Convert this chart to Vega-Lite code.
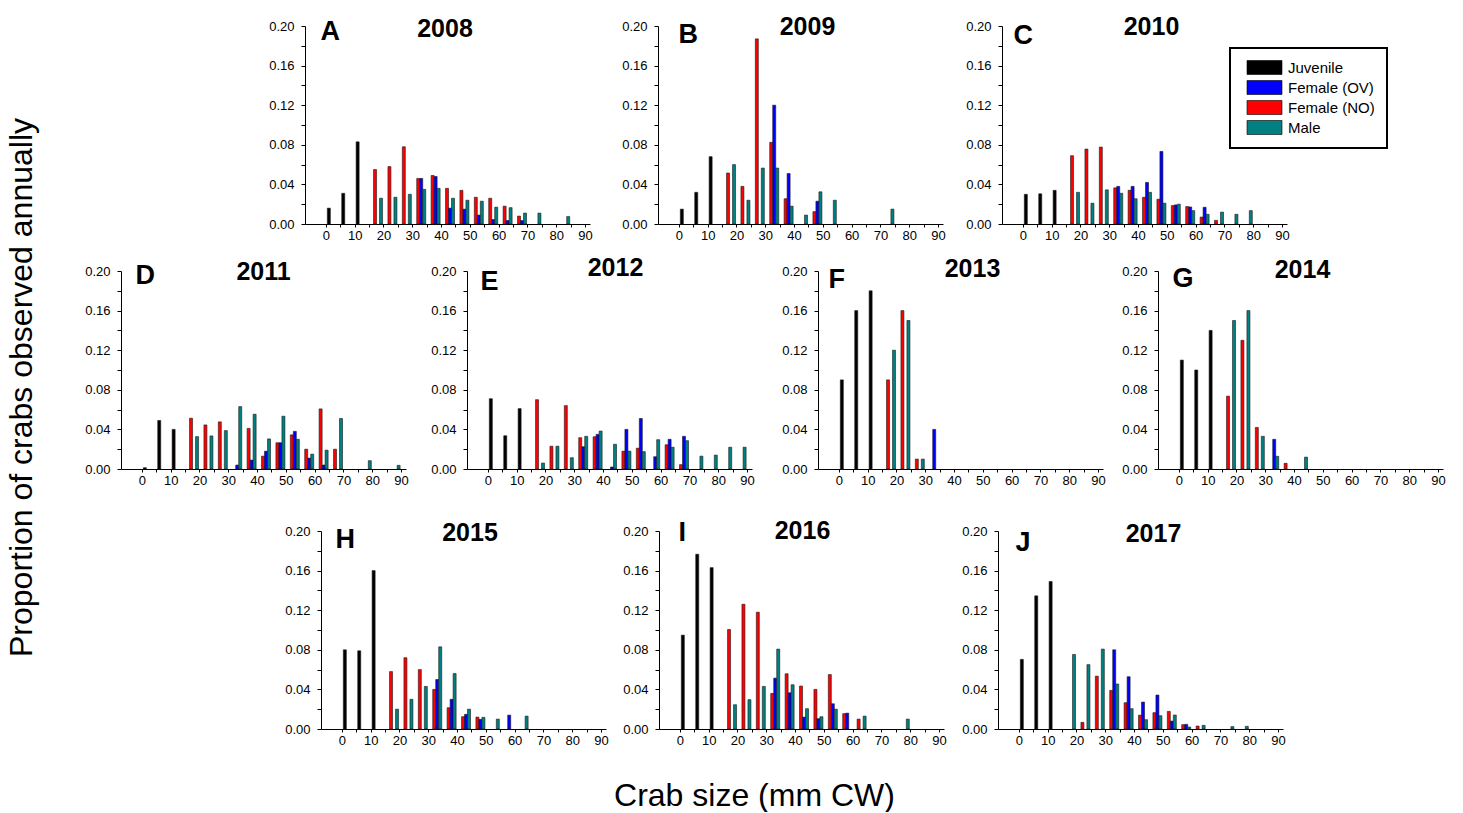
{
"$schema":"https://vega.github.io/schema/vega-lite/v6.json",
"padding":{"left":5,"top":14,"right":0,"bottom":0},
"data":{"name":"crabs"},
"datasets":{"crabs":[
{"year":2008,"stage":"Juvenile","size":0,"prop":0.016},{"year":2008,"stage":"Juvenile","size":5,"prop":0.031},{"year":2008,"stage":"Juvenile","size":10,"prop":0.083},
{"year":2008,"stage":"Female (NO)","size":15,"prop":0.055},{"year":2008,"stage":"Female (NO)","size":20,"prop":0.058},{"year":2008,"stage":"Female (NO)","size":25,"prop":0.078},{"year":2008,"stage":"Female (NO)","size":30,"prop":0.046},{"year":2008,"stage":"Female (NO)","size":35,"prop":0.049},{"year":2008,"stage":"Female (NO)","size":40,"prop":0.036},{"year":2008,"stage":"Female (NO)","size":45,"prop":0.034},{"year":2008,"stage":"Female (NO)","size":50,"prop":0.027},{"year":2008,"stage":"Female (NO)","size":55,"prop":0.026},{"year":2008,"stage":"Female (NO)","size":60,"prop":0.018},{"year":2008,"stage":"Female (NO)","size":65,"prop":0.008},
{"year":2008,"stage":"Female (OV)","size":30,"prop":0.046},{"year":2008,"stage":"Female (OV)","size":35,"prop":0.048},{"year":2008,"stage":"Female (OV)","size":40,"prop":0.016},{"year":2008,"stage":"Female (OV)","size":45,"prop":0.015},{"year":2008,"stage":"Female (OV)","size":50,"prop":0.009},{"year":2008,"stage":"Female (OV)","size":55,"prop":0.0045},{"year":2008,"stage":"Female (OV)","size":60,"prop":0.0035},{"year":2008,"stage":"Female (OV)","size":65,"prop":0.0035},
{"year":2008,"stage":"Male","size":15,"prop":0.026},{"year":2008,"stage":"Male","size":20,"prop":0.027},{"year":2008,"stage":"Male","size":25,"prop":0.030},{"year":2008,"stage":"Male","size":30,"prop":0.035},{"year":2008,"stage":"Male","size":35,"prop":0.036},{"year":2008,"stage":"Male","size":40,"prop":0.026},{"year":2008,"stage":"Male","size":45,"prop":0.024},{"year":2008,"stage":"Male","size":50,"prop":0.023},{"year":2008,"stage":"Male","size":55,"prop":0.017},{"year":2008,"stage":"Male","size":60,"prop":0.0165},{"year":2008,"stage":"Male","size":65,"prop":0.011},{"year":2008,"stage":"Male","size":70,"prop":0.011},{"year":2008,"stage":"Male","size":80,"prop":0.0075},

{"year":2009,"stage":"Juvenile","size":0,"prop":0.015},{"year":2009,"stage":"Juvenile","size":5,"prop":0.032},{"year":2009,"stage":"Juvenile","size":10,"prop":0.068},
{"year":2009,"stage":"Female (NO)","size":15,"prop":0.0515},{"year":2009,"stage":"Female (NO)","size":20,"prop":0.038},{"year":2009,"stage":"Female (NO)","size":25,"prop":0.187},{"year":2009,"stage":"Female (NO)","size":30,"prop":0.0825},{"year":2009,"stage":"Female (NO)","size":35,"prop":0.0255},{"year":2009,"stage":"Female (NO)","size":45,"prop":0.0125},
{"year":2009,"stage":"Female (OV)","size":30,"prop":0.12},{"year":2009,"stage":"Female (OV)","size":35,"prop":0.051},{"year":2009,"stage":"Female (OV)","size":45,"prop":0.023},
{"year":2009,"stage":"Male","size":15,"prop":0.060},{"year":2009,"stage":"Male","size":20,"prop":0.024},{"year":2009,"stage":"Male","size":25,"prop":0.0565},{"year":2009,"stage":"Male","size":30,"prop":0.0565},{"year":2009,"stage":"Male","size":35,"prop":0.018},{"year":2009,"stage":"Male","size":40,"prop":0.009},{"year":2009,"stage":"Male","size":45,"prop":0.0325},{"year":2009,"stage":"Male","size":50,"prop":0.024},{"year":2009,"stage":"Male","size":70,"prop":0.015},

{"year":2010,"stage":"Juvenile","size":0,"prop":0.030},{"year":2010,"stage":"Juvenile","size":5,"prop":0.0305},{"year":2010,"stage":"Juvenile","size":10,"prop":0.034},
{"year":2010,"stage":"Female (NO)","size":15,"prop":0.069},{"year":2010,"stage":"Female (NO)","size":20,"prop":0.0757},{"year":2010,"stage":"Female (NO)","size":25,"prop":0.0777},{"year":2010,"stage":"Female (NO)","size":30,"prop":0.0365},{"year":2010,"stage":"Female (NO)","size":35,"prop":0.034},{"year":2010,"stage":"Female (NO)","size":40,"prop":0.027},{"year":2010,"stage":"Female (NO)","size":45,"prop":0.025},{"year":2010,"stage":"Female (NO)","size":50,"prop":0.0186},{"year":2010,"stage":"Female (NO)","size":55,"prop":0.0176},{"year":2010,"stage":"Female (NO)","size":60,"prop":0.007},{"year":2010,"stage":"Female (NO)","size":65,"prop":0.0037},
{"year":2010,"stage":"Female (OV)","size":30,"prop":0.038},{"year":2010,"stage":"Female (OV)","size":35,"prop":0.038},{"year":2010,"stage":"Female (OV)","size":40,"prop":0.042},{"year":2010,"stage":"Female (OV)","size":45,"prop":0.0733},{"year":2010,"stage":"Female (OV)","size":50,"prop":0.0193},{"year":2010,"stage":"Female (OV)","size":55,"prop":0.0172},{"year":2010,"stage":"Female (OV)","size":60,"prop":0.0169},
{"year":2010,"stage":"Male","size":15,"prop":0.032},{"year":2010,"stage":"Male","size":20,"prop":0.021},{"year":2010,"stage":"Male","size":25,"prop":0.0345},{"year":2010,"stage":"Male","size":30,"prop":0.031},{"year":2010,"stage":"Male","size":35,"prop":0.0255},{"year":2010,"stage":"Male","size":40,"prop":0.032},{"year":2010,"stage":"Male","size":45,"prop":0.021},{"year":2010,"stage":"Male","size":50,"prop":0.020},{"year":2010,"stage":"Male","size":55,"prop":0.0135},{"year":2010,"stage":"Male","size":60,"prop":0.0098},{"year":2010,"stage":"Male","size":65,"prop":0.012},{"year":2010,"stage":"Male","size":70,"prop":0.0098},{"year":2010,"stage":"Male","size":75,"prop":0.0135},

{"year":2011,"stage":"Juvenile","size":0,"prop":0.0013},{"year":2011,"stage":"Juvenile","size":5,"prop":0.049},{"year":2011,"stage":"Juvenile","size":10,"prop":0.040},
{"year":2011,"stage":"Female (NO)","size":15,"prop":0.0513},{"year":2011,"stage":"Female (NO)","size":20,"prop":0.0445},{"year":2011,"stage":"Female (NO)","size":25,"prop":0.0476},{"year":2011,"stage":"Female (NO)","size":35,"prop":0.041},{"year":2011,"stage":"Female (NO)","size":40,"prop":0.013},{"year":2011,"stage":"Female (NO)","size":45,"prop":0.0265},{"year":2011,"stage":"Female (NO)","size":50,"prop":0.0345},{"year":2011,"stage":"Female (NO)","size":55,"prop":0.020},{"year":2011,"stage":"Female (NO)","size":60,"prop":0.0607},{"year":2011,"stage":"Female (NO)","size":65,"prop":0.020},
{"year":2011,"stage":"Female (OV)","size":30,"prop":0.004},{"year":2011,"stage":"Female (OV)","size":35,"prop":0.009},{"year":2011,"stage":"Female (OV)","size":40,"prop":0.018},{"year":2011,"stage":"Female (OV)","size":45,"prop":0.0265},{"year":2011,"stage":"Female (OV)","size":50,"prop":0.038},{"year":2011,"stage":"Female (OV)","size":55,"prop":0.011},{"year":2011,"stage":"Female (OV)","size":60,"prop":0.004},
{"year":2011,"stage":"Male","size":15,"prop":0.0327},{"year":2011,"stage":"Male","size":20,"prop":0.0334},{"year":2011,"stage":"Male","size":25,"prop":0.0388},{"year":2011,"stage":"Male","size":30,"prop":0.063},{"year":2011,"stage":"Male","size":35,"prop":0.0553},{"year":2011,"stage":"Male","size":40,"prop":0.0304},{"year":2011,"stage":"Male","size":45,"prop":0.0533},{"year":2011,"stage":"Male","size":50,"prop":0.030},{"year":2011,"stage":"Male","size":55,"prop":0.015},{"year":2011,"stage":"Male","size":60,"prop":0.019},{"year":2011,"stage":"Male","size":65,"prop":0.051},{"year":2011,"stage":"Male","size":75,"prop":0.0084},{"year":2011,"stage":"Male","size":85,"prop":0.0037},

{"year":2012,"stage":"Juvenile","size":0,"prop":0.071},{"year":2012,"stage":"Juvenile","size":5,"prop":0.0336},{"year":2012,"stage":"Juvenile","size":10,"prop":0.061},
{"year":2012,"stage":"Female (NO)","size":15,"prop":0.070},{"year":2012,"stage":"Female (NO)","size":20,"prop":0.023},{"year":2012,"stage":"Female (NO)","size":25,"prop":0.064},{"year":2012,"stage":"Female (NO)","size":30,"prop":0.0316},{"year":2012,"stage":"Female (NO)","size":35,"prop":0.0326},{"year":2012,"stage":"Female (NO)","size":45,"prop":0.018},{"year":2012,"stage":"Female (NO)","size":50,"prop":0.021},{"year":2012,"stage":"Female (NO)","size":60,"prop":0.0245},{"year":2012,"stage":"Female (NO)","size":65,"prop":0.0044},
{"year":2012,"stage":"Female (OV)","size":30,"prop":0.0225},{"year":2012,"stage":"Female (OV)","size":35,"prop":0.035},{"year":2012,"stage":"Female (OV)","size":40,"prop":0.002},{"year":2012,"stage":"Female (OV)","size":45,"prop":0.040},{"year":2012,"stage":"Female (OV)","size":50,"prop":0.051},{"year":2012,"stage":"Female (OV)","size":55,"prop":0.0124},{"year":2012,"stage":"Female (OV)","size":60,"prop":0.030},{"year":2012,"stage":"Female (OV)","size":65,"prop":0.033},
{"year":2012,"stage":"Male","size":15,"prop":0.006},{"year":2012,"stage":"Male","size":20,"prop":0.023},{"year":2012,"stage":"Male","size":25,"prop":0.0114},{"year":2012,"stage":"Male","size":30,"prop":0.033},{"year":2012,"stage":"Male","size":35,"prop":0.0383},{"year":2012,"stage":"Male","size":40,"prop":0.025},{"year":2012,"stage":"Male","size":45,"prop":0.018},{"year":2012,"stage":"Male","size":50,"prop":0.0175},{"year":2012,"stage":"Male","size":55,"prop":0.0296},{"year":2012,"stage":"Male","size":60,"prop":0.022},{"year":2012,"stage":"Male","size":65,"prop":0.0286},{"year":2012,"stage":"Male","size":70,"prop":0.013},{"year":2012,"stage":"Male","size":75,"prop":0.014},{"year":2012,"stage":"Male","size":80,"prop":0.022},{"year":2012,"stage":"Male","size":85,"prop":0.022},

{"year":2013,"stage":"Juvenile","size":0,"prop":0.09},{"year":2013,"stage":"Juvenile","size":5,"prop":0.16},{"year":2013,"stage":"Juvenile","size":10,"prop":0.18},
{"year":2013,"stage":"Female (NO)","size":15,"prop":0.09},{"year":2013,"stage":"Female (NO)","size":20,"prop":0.16},{"year":2013,"stage":"Female (NO)","size":25,"prop":0.01},
{"year":2013,"stage":"Female (OV)","size":30,"prop":0.04},
{"year":2013,"stage":"Male","size":15,"prop":0.12},{"year":2013,"stage":"Male","size":20,"prop":0.15},{"year":2013,"stage":"Male","size":25,"prop":0.01},

{"year":2014,"stage":"Juvenile","size":0,"prop":0.11},{"year":2014,"stage":"Juvenile","size":5,"prop":0.10},{"year":2014,"stage":"Juvenile","size":10,"prop":0.14},
{"year":2014,"stage":"Female (NO)","size":15,"prop":0.0736},{"year":2014,"stage":"Female (NO)","size":20,"prop":0.13},{"year":2014,"stage":"Female (NO)","size":25,"prop":0.042},{"year":2014,"stage":"Female (NO)","size":35,"prop":0.0057},
{"year":2014,"stage":"Female (OV)","size":30,"prop":0.030},
{"year":2014,"stage":"Male","size":15,"prop":0.15},{"year":2014,"stage":"Male","size":20,"prop":0.16},{"year":2014,"stage":"Male","size":25,"prop":0.033},{"year":2014,"stage":"Male","size":30,"prop":0.0128},{"year":2014,"stage":"Male","size":40,"prop":0.012},

{"year":2015,"stage":"Juvenile","size":0,"prop":0.080},{"year":2015,"stage":"Juvenile","size":5,"prop":0.079},{"year":2015,"stage":"Juvenile","size":10,"prop":0.160},
{"year":2015,"stage":"Female (NO)","size":15,"prop":0.058},{"year":2015,"stage":"Female (NO)","size":20,"prop":0.072},{"year":2015,"stage":"Female (NO)","size":25,"prop":0.060},{"year":2015,"stage":"Female (NO)","size":30,"prop":0.040},{"year":2015,"stage":"Female (NO)","size":35,"prop":0.0215},{"year":2015,"stage":"Female (NO)","size":40,"prop":0.0124},{"year":2015,"stage":"Female (NO)","size":45,"prop":0.012},
{"year":2015,"stage":"Female (OV)","size":30,"prop":0.050},{"year":2015,"stage":"Female (OV)","size":35,"prop":0.030},{"year":2015,"stage":"Female (OV)","size":40,"prop":0.0148},{"year":2015,"stage":"Female (OV)","size":45,"prop":0.0097},{"year":2015,"stage":"Female (OV)","size":55,"prop":0.014},
{"year":2015,"stage":"Male","size":15,"prop":0.020},{"year":2015,"stage":"Male","size":20,"prop":0.030},{"year":2015,"stage":"Male","size":25,"prop":0.043},{"year":2015,"stage":"Male","size":30,"prop":0.083},{"year":2015,"stage":"Male","size":35,"prop":0.056},{"year":2015,"stage":"Male","size":40,"prop":0.020},{"year":2015,"stage":"Male","size":45,"prop":0.0118},{"year":2015,"stage":"Male","size":50,"prop":0.010},{"year":2015,"stage":"Male","size":60,"prop":0.013},

{"year":2016,"stage":"Juvenile","size":0,"prop":0.0948},{"year":2016,"stage":"Juvenile","size":5,"prop":0.1765},{"year":2016,"stage":"Juvenile","size":10,"prop":0.163},
{"year":2016,"stage":"Female (NO)","size":15,"prop":0.1005},{"year":2016,"stage":"Female (NO)","size":20,"prop":0.126},{"year":2016,"stage":"Female (NO)","size":25,"prop":0.118},{"year":2016,"stage":"Female (NO)","size":30,"prop":0.036},{"year":2016,"stage":"Female (NO)","size":35,"prop":0.0558},{"year":2016,"stage":"Female (NO)","size":40,"prop":0.0434},{"year":2016,"stage":"Female (NO)","size":45,"prop":0.040},{"year":2016,"stage":"Female (NO)","size":50,"prop":0.055},{"year":2016,"stage":"Female (NO)","size":55,"prop":0.0155},{"year":2016,"stage":"Female (NO)","size":60,"prop":0.010},
{"year":2016,"stage":"Female (OV)","size":30,"prop":0.0514},{"year":2016,"stage":"Female (OV)","size":35,"prop":0.0366},{"year":2016,"stage":"Female (OV)","size":40,"prop":0.012},{"year":2016,"stage":"Female (OV)","size":45,"prop":0.0104},{"year":2016,"stage":"Female (OV)","size":50,"prop":0.0255},{"year":2016,"stage":"Female (OV)","size":55,"prop":0.016},
{"year":2016,"stage":"Male","size":15,"prop":0.0245},{"year":2016,"stage":"Male","size":20,"prop":0.0296},{"year":2016,"stage":"Male","size":25,"prop":0.043},{"year":2016,"stage":"Male","size":30,"prop":0.0807},{"year":2016,"stage":"Male","size":35,"prop":0.0447},{"year":2016,"stage":"Male","size":40,"prop":0.0205},{"year":2016,"stage":"Male","size":45,"prop":0.0124},{"year":2016,"stage":"Male","size":50,"prop":0.020},{"year":2016,"stage":"Male","size":60,"prop":0.013},{"year":2016,"stage":"Male","size":75,"prop":0.010},

{"year":2017,"stage":"Juvenile","size":0,"prop":0.0703},{"year":2017,"stage":"Juvenile","size":5,"prop":0.1345},{"year":2017,"stage":"Juvenile","size":10,"prop":0.149},
{"year":2017,"stage":"Female (NO)","size":20,"prop":0.0067},{"year":2017,"stage":"Female (NO)","size":25,"prop":0.0534},{"year":2017,"stage":"Female (NO)","size":30,"prop":0.039},{"year":2017,"stage":"Female (NO)","size":35,"prop":0.0266},{"year":2017,"stage":"Female (NO)","size":40,"prop":0.014},{"year":2017,"stage":"Female (NO)","size":45,"prop":0.0165},{"year":2017,"stage":"Female (NO)","size":50,"prop":0.0178},{"year":2017,"stage":"Female (NO)","size":55,"prop":0.0044},{"year":2017,"stage":"Female (NO)","size":60,"prop":0.003},
{"year":2017,"stage":"Female (OV)","size":30,"prop":0.080},{"year":2017,"stage":"Female (OV)","size":35,"prop":0.0528},{"year":2017,"stage":"Female (OV)","size":40,"prop":0.0272},{"year":2017,"stage":"Female (OV)","size":45,"prop":0.0343},{"year":2017,"stage":"Female (OV)","size":50,"prop":0.008},{"year":2017,"stage":"Female (OV)","size":55,"prop":0.0047},
{"year":2017,"stage":"Male","size":15,"prop":0.0753},{"year":2017,"stage":"Male","size":20,"prop":0.065},{"year":2017,"stage":"Male","size":25,"prop":0.0807},{"year":2017,"stage":"Male","size":30,"prop":0.0454},{"year":2017,"stage":"Male","size":35,"prop":0.0205},{"year":2017,"stage":"Male","size":40,"prop":0.0094},{"year":2017,"stage":"Male","size":45,"prop":0.0134},{"year":2017,"stage":"Male","size":50,"prop":0.0141},{"year":2017,"stage":"Male","size":55,"prop":0.002},{"year":2017,"stage":"Male","size":60,"prop":0.0037},{"year":2017,"stage":"Male","size":70,"prop":0.0024},{"year":2017,"stage":"Male","size":75,"prop":0.0027}
]},
"config":{
"view":{"stroke":null},
"font":"Liberation Sans",
"concat":{"spacing":0},
"bar":{"stroke":"#1a1a1a","strokeWidth":0.6},
"legend":{"strokeWidth":2},
"axis":{"grid":false,"domainColor":"#000","tickColor":"#000","labelColor":"#000","labelFontSize":13,"labelFont":"Liberation Sans","titleColor":"#000","titleFont":"Liberation Sans","domainWidth":1,"tickWidth":1},
"axisX":{"tickSize":3,"labelPadding":2,"labelAngle":0,"labelFlush":false,"labelOverlap":false,"titleFontSize":25,"titleFontWeight":"bold","titleBaseline":"top","titleAlign":"center","titleAngle":0},
"axisY":{"tickSize":4,"labelPadding":7,"labelOverlap":false,"titleFontSize":27,"titleFontWeight":"bold","titleAngle":0,"titleAlign":"left","titleBaseline":"top"}
},
"title":{"text":"Crab size (mm CW)","orient":"bottom","anchor":"middle","offset":34,"dx":29,"fontSize":32,"fontWeight":"normal","font":"Liberation Sans","color":"#000"},
"resolve":{"legend":{"color":"independent"}},
"vconcat":[
{"title":{"text":"Proportion of crabs observed annually","orient":"left","anchor":"middle","offset":46,"dx":-7,"fontSize":32,"fontWeight":"normal","font":"Liberation Sans","color":"#000"},
"spacing":31,
"resolve":{"legend":{"color":"independent"}},
"vconcat":[
{"spacing":13,"resolve":{"legend":{"color":"independent"}},
"vconcat":[
{"bounds":"flush","spacing":0,"resolve":{"legend":{"color":"independent"}},
"hconcat":[
{"width":184,"height":10,"data":{"values":[]},"mark":{"type":"point","opacity":0}},
{"width":285,"height":198,"transform":[{"filter":"datum.year==2008"}],
"encoding":{
"x":{"field":"size","type":"quantitative","scale":{"domain":[-5.5,90],"nice":false,"zero":false},"axis":{"title":"2008","titleX":139.5,"titleY":-208,"values":[0,5,10,15,20,25,30,35,40,45,50,55,60,65,70,75,80,85,90],"labelExpr":"datum.value%10==0?datum.label:''"}},
"y":{"field":"prop","type":"quantitative","scale":{"domain":[0,0.2],"nice":false},"axis":{"title":"A","titleX":15,"titleY":-8,"values":[0,0.02,0.04,0.06,0.08,0.1,0.12,0.14,0.16,0.18,0.2],"labelExpr":"round(datum.value*100)%4==0?format(datum.value,'.2f'):''"}},
"color":{"field":"stage","type":"nominal","scale":{"domain":["Juvenile","Female (OV)","Female (NO)","Male"],"range":["#000000","#0000ff","#ff0000","#008080"]},"legend":null}},
"layer":[
{"transform":[{"filter":"datum.stage=='Juvenile'"}],"mark":{"type":"bar","xOffset":3,"width":3}},
{"transform":[{"filter":"datum.stage=='Female (NO)'"}],"mark":{"type":"bar","xOffset":6,"width":3}},
{"transform":[{"filter":"datum.stage=='Female (OV)'"}],"mark":{"type":"bar","xOffset":9,"width":3}},
{"transform":[{"filter":"datum.stage=='Male'"}],"mark":{"type":"bar","xOffset":12,"width":3}}]},
{"width":68,"height":10,"data":{"values":[]},"mark":{"type":"point","opacity":0}},
{"width":285,"height":198,"transform":[{"filter":"datum.year==2009"}],
"encoding":{
"x":{"field":"size","type":"quantitative","scale":{"domain":[-5.5,90],"nice":false,"zero":false},"axis":{"title":"2009","titleX":149,"titleY":-210,"values":[0,5,10,15,20,25,30,35,40,45,50,55,60,65,70,75,80,85,90],"labelExpr":"datum.value%10==0?datum.label:''"}},
"y":{"field":"prop","type":"quantitative","scale":{"domain":[0,0.2],"nice":false},"axis":{"title":"B","titleX":20,"titleY":-5,"values":[0,0.02,0.04,0.06,0.08,0.1,0.12,0.14,0.16,0.18,0.2],"labelExpr":"round(datum.value*100)%4==0?format(datum.value,'.2f'):''"}},
"color":{"field":"stage","type":"nominal","scale":{"domain":["Juvenile","Female (OV)","Female (NO)","Male"],"range":["#000000","#0000ff","#ff0000","#008080"]},"legend":null}},
"layer":[
{"transform":[{"filter":"datum.stage=='Juvenile'"}],"mark":{"type":"bar","xOffset":3,"width":3}},
{"transform":[{"filter":"datum.stage=='Female (NO)'"}],"mark":{"type":"bar","xOffset":6,"width":3}},
{"transform":[{"filter":"datum.stage=='Female (OV)'"}],"mark":{"type":"bar","xOffset":9,"width":3}},
{"transform":[{"filter":"datum.stage=='Male'"}],"mark":{"type":"bar","xOffset":12,"width":3}}]},
{"width":59,"height":10,"data":{"values":[]},"mark":{"type":"point","opacity":0}},
{"width":285,"height":198,"transform":[{"filter":"datum.year==2010"}],
"encoding":{
"x":{"field":"size","type":"quantitative","scale":{"domain":[-5.5,90],"nice":false,"zero":false},"axis":{"title":"2010","titleX":149,"titleY":-210,"values":[0,5,10,15,20,25,30,35,40,45,50,55,60,65,70,75,80,85,90],"labelExpr":"datum.value%10==0?datum.label:''"}},
"y":{"field":"prop","type":"quantitative","scale":{"domain":[0,0.2],"nice":false},"axis":{"title":"C","titleX":11,"titleY":-4,"values":[0,0.02,0.04,0.06,0.08,0.1,0.12,0.14,0.16,0.18,0.2],"labelExpr":"round(datum.value*100)%4==0?format(datum.value,'.2f'):''"}},
"color":{"field":"stage","type":"nominal","scale":{"domain":["Juvenile","Female (OV)","Female (NO)","Male"],"range":["#000000","#0000ff","#ff0000","#008080"]},
"legend":{"orient":"none","legendX":228,"legendY":22,"title":null,"direction":"vertical","fillColor":"white","strokeColor":"black","padding":12,"symbolType":"M-2.5,-1H2.5V1H-2.5Z","symbolSize":196,"symbolStrokeColor":"#000","symbolStrokeWidth":1,"symbolOffset":15,"labelOffset":16,"labelFontSize":15,"labelFont":"Liberation Sans","labelColor":"#000","rowPadding":3}}},
"layer":[
{"transform":[{"filter":"datum.stage=='Juvenile'"}],"mark":{"type":"bar","xOffset":3,"width":3}},
{"transform":[{"filter":"datum.stage=='Female (NO)'"}],"mark":{"type":"bar","xOffset":6,"width":3}},
{"transform":[{"filter":"datum.stage=='Female (OV)'"}],"mark":{"type":"bar","xOffset":9,"width":3}},
{"transform":[{"filter":"datum.stage=='Male'"}],"mark":{"type":"bar","xOffset":12,"width":3}}]}
]},
{"bounds":"flush","spacing":0,"resolve":{"legend":{"color":"independent"}},
"hconcat":[
{"width":285,"height":198,"transform":[{"filter":"datum.year==2011"}],
"encoding":{
"x":{"field":"size","type":"quantitative","scale":{"domain":[-5.5,90],"nice":false,"zero":false},"axis":{"title":"2011","titleX":142,"titleY":-210,"values":[0,5,10,15,20,25,30,35,40,45,50,55,60,65,70,75,80,85,90],"labelExpr":"datum.value%10==0?datum.label:''"}},
"y":{"field":"prop","type":"quantitative","scale":{"domain":[0,0.2],"nice":false},"axis":{"title":"D","titleX":14,"titleY":-9,"values":[0,0.02,0.04,0.06,0.08,0.1,0.12,0.14,0.16,0.18,0.2],"labelExpr":"round(datum.value*100)%4==0?format(datum.value,'.2f'):''"}},
"color":{"field":"stage","type":"nominal","scale":{"domain":["Juvenile","Female (OV)","Female (NO)","Male"],"range":["#000000","#0000ff","#ff0000","#008080"]},"legend":null}},
"layer":[
{"transform":[{"filter":"datum.stage=='Juvenile'"}],"mark":{"type":"bar","xOffset":3,"width":3}},
{"transform":[{"filter":"datum.stage=='Female (NO)'"}],"mark":{"type":"bar","xOffset":6,"width":3}},
{"transform":[{"filter":"datum.stage=='Female (OV)'"}],"mark":{"type":"bar","xOffset":9,"width":3}},
{"transform":[{"filter":"datum.stage=='Male'"}],"mark":{"type":"bar","xOffset":12,"width":3}}]},
{"width":61,"height":10,"data":{"values":[]},"mark":{"type":"point","opacity":0}},
{"width":285,"height":198,"transform":[{"filter":"datum.year==2012"}],
"encoding":{
"x":{"field":"size","type":"quantitative","scale":{"domain":[-5.5,90],"nice":false,"zero":false},"axis":{"title":"2012","titleX":148,"titleY":-214,"values":[0,5,10,15,20,25,30,35,40,45,50,55,60,65,70,75,80,85,90],"labelExpr":"datum.value%10==0?datum.label:''"}},
"y":{"field":"prop","type":"quantitative","scale":{"domain":[0,0.2],"nice":false},"axis":{"title":"E","titleX":13,"titleY":-3,"values":[0,0.02,0.04,0.06,0.08,0.1,0.12,0.14,0.16,0.18,0.2],"labelExpr":"round(datum.value*100)%4==0?format(datum.value,'.2f'):''"}},
"color":{"field":"stage","type":"nominal","scale":{"domain":["Juvenile","Female (OV)","Female (NO)","Male"],"range":["#000000","#0000ff","#ff0000","#008080"]},"legend":null}},
"layer":[
{"transform":[{"filter":"datum.stage=='Juvenile'"}],"mark":{"type":"bar","xOffset":3,"width":3}},
{"transform":[{"filter":"datum.stage=='Female (NO)'"}],"mark":{"type":"bar","xOffset":6,"width":3}},
{"transform":[{"filter":"datum.stage=='Female (OV)'"}],"mark":{"type":"bar","xOffset":9,"width":3}},
{"transform":[{"filter":"datum.stage=='Male'"}],"mark":{"type":"bar","xOffset":12,"width":3}}]},
{"width":66,"height":10,"data":{"values":[]},"mark":{"type":"point","opacity":0}},
{"width":285,"height":198,"transform":[{"filter":"datum.year==2013"}],
"encoding":{
"x":{"field":"size","type":"quantitative","scale":{"domain":[-5.5,90],"nice":false,"zero":false},"axis":{"title":"2013","titleX":154,"titleY":-213,"values":[0,5,10,15,20,25,30,35,40,45,50,55,60,65,70,75,80,85,90],"labelExpr":"datum.value%10==0?datum.label:''"}},
"y":{"field":"prop","type":"quantitative","scale":{"domain":[0,0.2],"nice":false},"axis":{"title":"F","titleX":10,"titleY":-5,"values":[0,0.02,0.04,0.06,0.08,0.1,0.12,0.14,0.16,0.18,0.2],"labelExpr":"round(datum.value*100)%4==0?format(datum.value,'.2f'):''"}},
"color":{"field":"stage","type":"nominal","scale":{"domain":["Juvenile","Female (OV)","Female (NO)","Male"],"range":["#000000","#0000ff","#ff0000","#008080"]},"legend":null}},
"layer":[
{"transform":[{"filter":"datum.stage=='Juvenile'"}],"mark":{"type":"bar","xOffset":3,"width":3}},
{"transform":[{"filter":"datum.stage=='Female (NO)'"}],"mark":{"type":"bar","xOffset":6,"width":3}},
{"transform":[{"filter":"datum.stage=='Female (OV)'"}],"mark":{"type":"bar","xOffset":9,"width":3}},
{"transform":[{"filter":"datum.stage=='Male'"}],"mark":{"type":"bar","xOffset":12,"width":3}}]},
{"width":55,"height":10,"data":{"values":[]},"mark":{"type":"point","opacity":0}},
{"width":285,"height":198,"transform":[{"filter":"datum.year==2014"}],
"encoding":{
"x":{"field":"size","type":"quantitative","scale":{"domain":[-5.5,90],"nice":false,"zero":false},"axis":{"title":"2014","titleX":144,"titleY":-212,"values":[0,5,10,15,20,25,30,35,40,45,50,55,60,65,70,75,80,85,90],"labelExpr":"datum.value%10==0?datum.label:''"}},
"y":{"field":"prop","type":"quantitative","scale":{"domain":[0,0.2],"nice":false},"axis":{"title":"G","titleX":14,"titleY":-6,"values":[0,0.02,0.04,0.06,0.08,0.1,0.12,0.14,0.16,0.18,0.2],"labelExpr":"round(datum.value*100)%4==0?format(datum.value,'.2f'):''"}},
"color":{"field":"stage","type":"nominal","scale":{"domain":["Juvenile","Female (OV)","Female (NO)","Male"],"range":["#000000","#0000ff","#ff0000","#008080"]},"legend":null}},
"layer":[
{"transform":[{"filter":"datum.stage=='Juvenile'"}],"mark":{"type":"bar","xOffset":3,"width":3}},
{"transform":[{"filter":"datum.stage=='Female (NO)'"}],"mark":{"type":"bar","xOffset":6,"width":3}},
{"transform":[{"filter":"datum.stage=='Female (OV)'"}],"mark":{"type":"bar","xOffset":9,"width":3}},
{"transform":[{"filter":"datum.stage=='Male'"}],"mark":{"type":"bar","xOffset":12,"width":3}}]}
]}
]},
{"bounds":"flush","spacing":0,"resolve":{"legend":{"color":"independent"}},
"hconcat":[
{"width":200,"height":10,"data":{"values":[]},"mark":{"type":"point","opacity":0}},
{"width":285,"height":198,"transform":[{"filter":"datum.year==2015"}],
"encoding":{
"x":{"field":"size","type":"quantitative","scale":{"domain":[-5.5,90],"nice":false,"zero":false},"axis":{"title":"2015","titleX":148.5,"titleY":-209,"values":[0,5,10,15,20,25,30,35,40,45,50,55,60,65,70,75,80,85,90],"labelExpr":"datum.value%10==0?datum.label:''"}},
"y":{"field":"prop","type":"quantitative","scale":{"domain":[0,0.2],"nice":false},"axis":{"title":"H","titleX":14,"titleY":-5,"values":[0,0.02,0.04,0.06,0.08,0.1,0.12,0.14,0.16,0.18,0.2],"labelExpr":"round(datum.value*100)%4==0?format(datum.value,'.2f'):''"}},
"color":{"field":"stage","type":"nominal","scale":{"domain":["Juvenile","Female (OV)","Female (NO)","Male"],"range":["#000000","#0000ff","#ff0000","#008080"]},"legend":null}},
"layer":[
{"transform":[{"filter":"datum.stage=='Juvenile'"}],"mark":{"type":"bar","xOffset":3,"width":3}},
{"transform":[{"filter":"datum.stage=='Female (NO)'"}],"mark":{"type":"bar","xOffset":6,"width":3}},
{"transform":[{"filter":"datum.stage=='Female (OV)'"}],"mark":{"type":"bar","xOffset":9,"width":3}},
{"transform":[{"filter":"datum.stage=='Male'"}],"mark":{"type":"bar","xOffset":12,"width":3}}]},
{"width":53,"height":10,"data":{"values":[]},"mark":{"type":"point","opacity":0}},
{"width":285,"height":198,"transform":[{"filter":"datum.year==2016"}],
"encoding":{
"x":{"field":"size","type":"quantitative","scale":{"domain":[-5.5,90],"nice":false,"zero":false},"axis":{"title":"2016","titleX":143,"titleY":-211,"values":[0,5,10,15,20,25,30,35,40,45,50,55,60,65,70,75,80,85,90],"labelExpr":"datum.value%10==0?datum.label:''"}},
"y":{"field":"prop","type":"quantitative","scale":{"domain":[0,0.2],"nice":false},"axis":{"title":"I","titleX":19,"titleY":-12,"values":[0,0.02,0.04,0.06,0.08,0.1,0.12,0.14,0.16,0.18,0.2],"labelExpr":"round(datum.value*100)%4==0?format(datum.value,'.2f'):''"}},
"color":{"field":"stage","type":"nominal","scale":{"domain":["Juvenile","Female (OV)","Female (NO)","Male"],"range":["#000000","#0000ff","#ff0000","#008080"]},"legend":null}},
"layer":[
{"transform":[{"filter":"datum.stage=='Juvenile'"}],"mark":{"type":"bar","xOffset":3,"width":3}},
{"transform":[{"filter":"datum.stage=='Female (NO)'"}],"mark":{"type":"bar","xOffset":6,"width":3}},
{"transform":[{"filter":"datum.stage=='Female (OV)'"}],"mark":{"type":"bar","xOffset":9,"width":3}},
{"transform":[{"filter":"datum.stage=='Male'"}],"mark":{"type":"bar","xOffset":12,"width":3}}]},
{"width":54,"height":10,"data":{"values":[]},"mark":{"type":"point","opacity":0}},
{"width":285,"height":198,"transform":[{"filter":"datum.year==2017"}],
"encoding":{
"x":{"field":"size","type":"quantitative","scale":{"domain":[-5.5,90],"nice":false,"zero":false},"axis":{"title":"2017","titleX":155,"titleY":-208,"values":[0,5,10,15,20,25,30,35,40,45,50,55,60,65,70,75,80,85,90],"labelExpr":"datum.value%10==0?datum.label:''"}},
"y":{"field":"prop","type":"quantitative","scale":{"domain":[0,0.2],"nice":false},"axis":{"title":"J","titleX":17,"titleY":-2,"values":[0,0.02,0.04,0.06,0.08,0.1,0.12,0.14,0.16,0.18,0.2],"labelExpr":"round(datum.value*100)%4==0?format(datum.value,'.2f'):''"}},
"color":{"field":"stage","type":"nominal","scale":{"domain":["Juvenile","Female (OV)","Female (NO)","Male"],"range":["#000000","#0000ff","#ff0000","#008080"]},"legend":null}},
"layer":[
{"transform":[{"filter":"datum.stage=='Juvenile'"}],"mark":{"type":"bar","xOffset":3,"width":3}},
{"transform":[{"filter":"datum.stage=='Female (NO)'"}],"mark":{"type":"bar","xOffset":6,"width":3}},
{"transform":[{"filter":"datum.stage=='Female (OV)'"}],"mark":{"type":"bar","xOffset":9,"width":3}},
{"transform":[{"filter":"datum.stage=='Male'"}],"mark":{"type":"bar","xOffset":12,"width":3}}]}
]}
]}
]
}
